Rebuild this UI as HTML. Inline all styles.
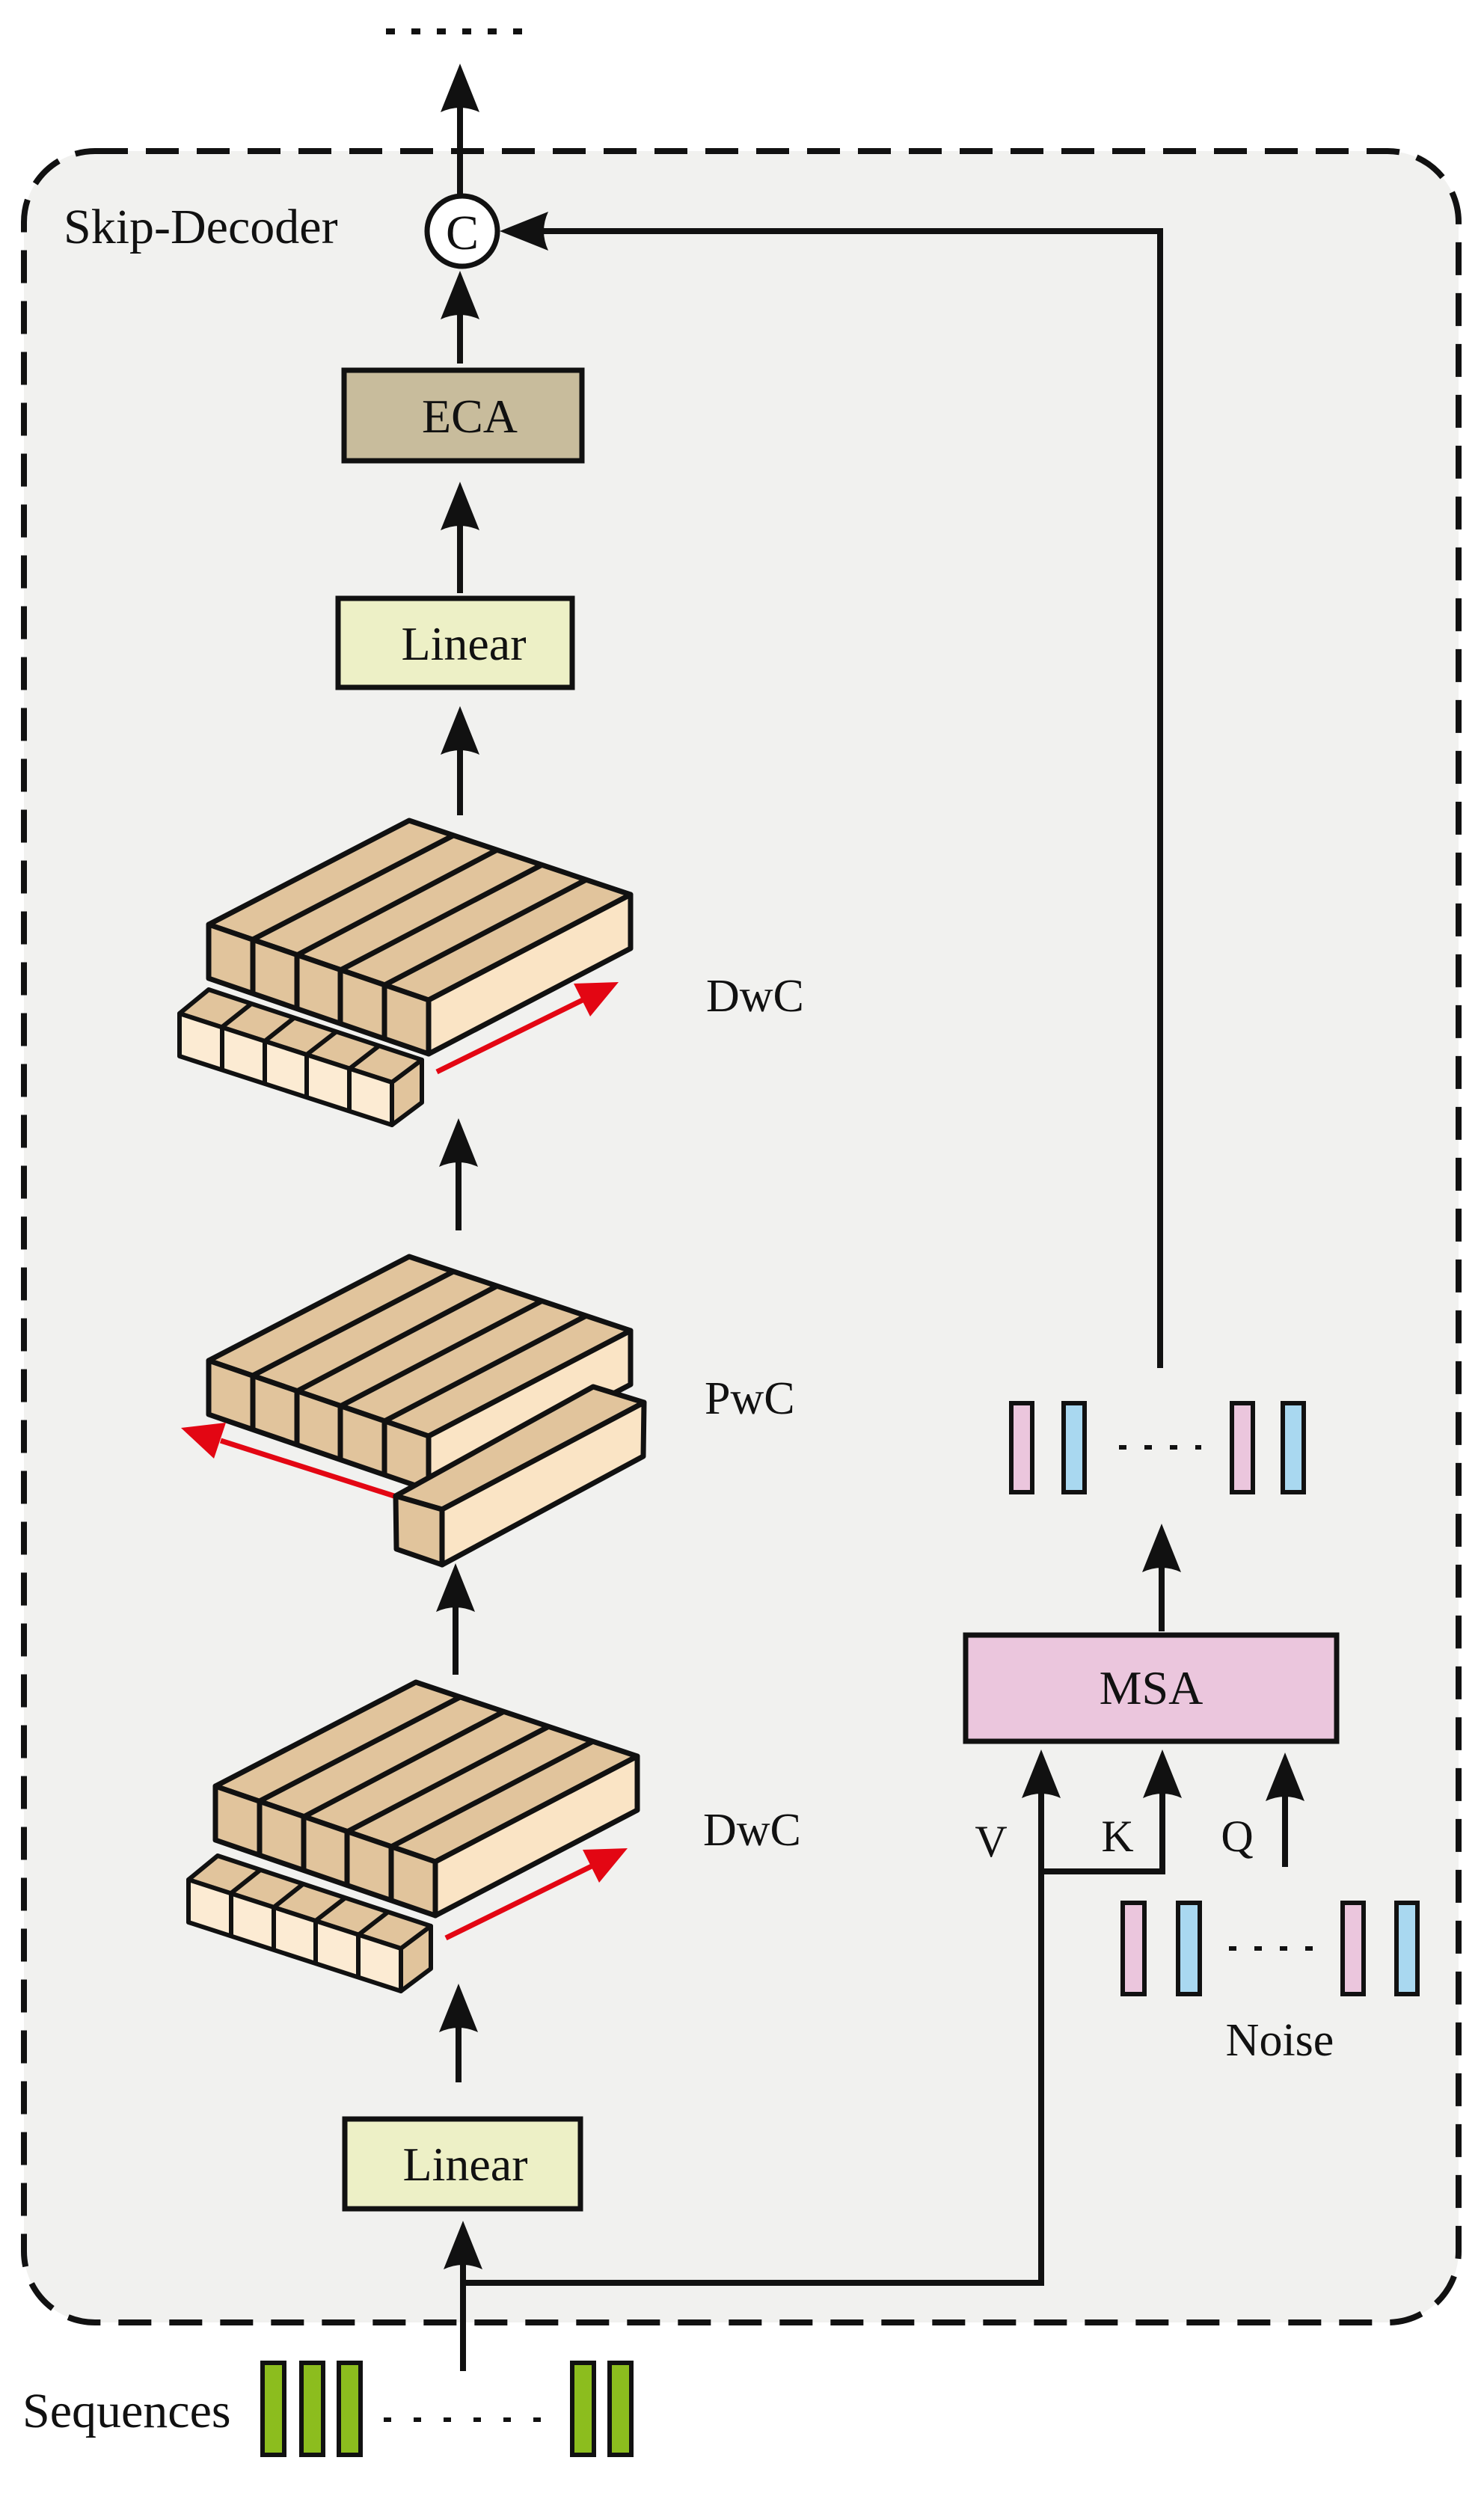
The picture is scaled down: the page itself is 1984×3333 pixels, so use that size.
<!DOCTYPE html>
<html><head><meta charset="utf-8"><style>
html,body{margin:0;padding:0;background:#fff}
svg{display:block}
text{font-family:"Liberation Serif",serif;fill:#111}
</style></head><body>
<svg width="1984" height="3333" viewBox="0 0 1984 3333" xmlns="http://www.w3.org/2000/svg">
<defs>
<g id="slab" stroke="#111" stroke-width="7" stroke-linejoin="round">
  <polygon points="547,1097 843,1196 573,1337 279,1236" fill="#e1c49c"/>
  <polygon points="279,1236 573,1337 573,1409 279,1308" fill="#e1c49c"/>
  <polygon points="573,1337 843,1196 843,1268 573,1409" fill="#fae4c5"/>
  <line x1="338" y1="1256" x2="606" y2="1117"/>
  <line x1="397" y1="1277" x2="665" y2="1136"/>
  <line x1="455" y1="1297" x2="725" y2="1156"/>
  <line x1="514" y1="1317" x2="784" y2="1176"/>
  <line x1="338" y1="1256" x2="338" y2="1328"/>
  <line x1="397" y1="1277" x2="397" y2="1349"/>
  <line x1="455" y1="1297" x2="455" y2="1369"/>
  <line x1="514" y1="1317" x2="514" y2="1389"/>
</g>
<g id="row" stroke="#111" stroke-width="6" stroke-linejoin="round">
  <polygon points="240,1355 279,1323 564,1417 524,1447" fill="#e1c49c"/>
  <polygon points="240,1355 524,1447 524,1504 240,1412" fill="#fcebd3"/>
  <polygon points="524,1447 564,1417 564,1474 524,1504" fill="#e1c49c"/>
  <line x1="297" y1="1373" x2="336" y2="1342"/>
  <line x1="354" y1="1392" x2="393" y2="1361"/>
  <line x1="410" y1="1410" x2="450" y2="1379"/>
  <line x1="467" y1="1429" x2="507" y2="1398"/>
  <line x1="297" y1="1373" x2="297" y2="1430"/>
  <line x1="354" y1="1392" x2="354" y2="1449"/>
  <line x1="410" y1="1410" x2="410" y2="1467"/>
  <line x1="467" y1="1429" x2="467" y2="1486"/>
</g>
<g id="redR">
  <line x1="584" y1="1433" x2="785" y2="1334" stroke="#e30613" stroke-width="7"/>
  <polygon points="827,1313 789,1359 767,1315" fill="#e30613"/>
</g>
</defs>

<rect x="32" y="202" width="1918" height="2903" rx="95" ry="95" fill="#f1f1ef" stroke="#111" stroke-width="8" stroke-dasharray="44,24"/>

<line x1="516" y1="42" x2="710" y2="42" stroke="#111" stroke-width="8" stroke-dasharray="12,22"/>

<g stroke="#111" stroke-width="8" fill="none">
  <line x1="615" y1="140" x2="615" y2="260"/>
  <line x1="615" y1="410" x2="615" y2="486"/>
  <line x1="615" y1="700" x2="615" y2="793"/>
  <line x1="615" y1="995" x2="615" y2="1090"/>
  <line x1="613" y1="1545" x2="613" y2="1645"/>
  <line x1="609" y1="2140" x2="609" y2="2239"/>
  <line x1="613" y1="2700" x2="613" y2="2784"/>
  <line x1="619" y1="3015" x2="619" y2="3170"/>
  <polyline points="619,3052 1392,3052 1392,2385"/>
  <polyline points="1392,2502 1554,2502 1554,2385"/>
  <line x1="1718" y1="2496" x2="1718" y2="2390"/>
  <line x1="1553" y1="2181" x2="1553" y2="2085"/>
  <polyline points="1551,1829 1551,309 715,309"/>
</g>

<g fill="#111">
  <path d="M615,85 l-26,65 q26,-12 52,0 z"/>
  <path d="M615,362 l-26,65 q26,-12 52,0 z"/>
  <path d="M615,644 l-26,65 q26,-12 52,0 z"/>
  <path d="M615,944 l-26,65 q26,-12 52,0 z"/>
  <path d="M613,1495 l-26,65 q26,-12 52,0 z"/>
  <path d="M609,2090 l-26,65 q26,-12 52,0 z"/>
  <path d="M613,2652 l-26,65 q26,-12 52,0 z"/>
  <path d="M619,2969 l-26,65 q26,-12 52,0 z"/>
  <path d="M1392,2339 l-26,65 q26,-12 52,0 z"/>
  <path d="M1554,2339 l-26,65 q26,-12 52,0 z"/>
  <path d="M1718,2343 l-26,65 q26,-12 52,0 z"/>
  <path d="M1553,2037 l-26,65 q26,-12 52,0 z"/>
  <path d="M668,309 l65,-26 q-12,26 0,52 z"/>
</g>

<circle cx="618" cy="309" r="47" fill="#fff" stroke="#111" stroke-width="7"/>
<text x="618" y="333" font-size="66" text-anchor="middle">C</text>

<text x="85" y="325" font-size="66">Skip-Decoder</text>

<rect x="460" y="495" width="318" height="121" fill="#c8bc9c" stroke="#111" stroke-width="7"/>
<text x="628" y="578" font-size="64" text-anchor="middle">ECA</text>
<rect x="452" y="800" width="313" height="119" fill="#edf0c6" stroke="#111" stroke-width="7"/>
<text x="620" y="882" font-size="64" text-anchor="middle">Linear</text>

<use href="#slab"/>
<use href="#row"/>
<use href="#redR"/>
<text x="944" y="1352" font-size="62">DwC</text>

<use href="#slab" transform="translate(0,583)"/>
<g stroke="#111" stroke-width="7" stroke-linejoin="round">
  <line x1="530" y1="2001" x2="295" y2="1926" stroke="#e30613" stroke-width="7"/>
  <polygon points="242,1909 302,1902 286,1950" fill="#e30613" stroke="none"/>
  <polygon points="529,2000 793,1854 861,1875 591,2018" fill="#e1c49c"/>
  <polygon points="529,2000 591,2018 591,2092 530,2071" fill="#e1c49c"/>
  <polygon points="591,2018 861,1875 860,1947 591,2092" fill="#fae4c5"/>
</g>
<text x="942" y="1890" font-size="62">PwC</text>

<use href="#slab" transform="translate(9,1152)"/>
<use href="#row" transform="translate(12,1158)"/>
<use href="#redR" transform="translate(12,1158)"/>
<text x="940" y="2467" font-size="62">DwC</text>

<rect x="461" y="2833" width="315" height="120" fill="#edf0c6" stroke="#111" stroke-width="7"/>
<text x="622" y="2915" font-size="64" text-anchor="middle">Linear</text>

<rect x="1291" y="2186" width="496" height="142" fill="#ebc6dd" stroke="#111" stroke-width="7"/>
<text x="1539" y="2278" font-size="64" text-anchor="middle">MSA</text>
<text x="1325" y="2482" font-size="60" text-anchor="middle">V</text>
<text x="1494" y="2475" font-size="60" text-anchor="middle">K</text>
<text x="1654" y="2475" font-size="60" text-anchor="middle">Q</text>

<g stroke="#111" stroke-width="6">
  <rect x="1352" y="1876" width="28" height="119" fill="#ebc6dd"/>
  <rect x="1422" y="1876" width="28" height="119" fill="#a9d8f0"/>
  <rect x="1647" y="1876" width="28" height="119" fill="#ebc6dd"/>
  <rect x="1715" y="1876" width="28" height="119" fill="#a9d8f0"/>
  <line x1="1496" y1="1935" x2="1606" y2="1935" stroke-dasharray="10,24"/>
  <rect x="1501" y="2544" width="29" height="122" fill="#ebc6dd"/>
  <rect x="1575" y="2544" width="29" height="122" fill="#a9d8f0"/>
  <rect x="1795" y="2544" width="28" height="122" fill="#ebc6dd"/>
  <rect x="1867" y="2544" width="28" height="122" fill="#a9d8f0"/>
  <line x1="1643" y1="2605" x2="1757" y2="2605" stroke-dasharray="10,24"/>
  <rect x="351" y="3159" width="29" height="123" fill="#8cbd1e"/>
  <rect x="403" y="3159" width="29" height="123" fill="#8cbd1e"/>
  <rect x="453" y="3159" width="29" height="123" fill="#8cbd1e"/>
  <rect x="765" y="3159" width="29" height="123" fill="#8cbd1e"/>
  <rect x="815" y="3159" width="29" height="123" fill="#8cbd1e"/>
  <line x1="513" y1="3235" x2="740" y2="3235" stroke-dasharray="10,30"/>
</g>
<text x="1711" y="2748" font-size="62" text-anchor="middle">Noise</text>
<text x="30" y="3245" font-size="66">Sequences</text>
</svg>
</body></html>
